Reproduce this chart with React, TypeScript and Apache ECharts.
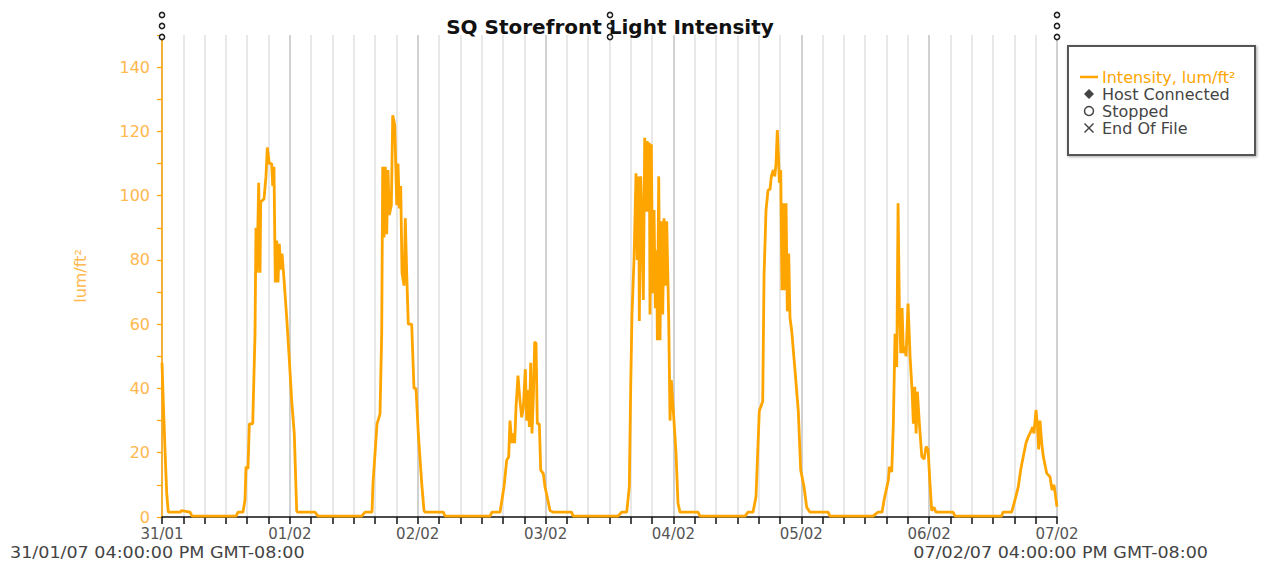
import React, { useEffect, useRef } from "react";
import * as echarts from "echarts";

// Hours elapsed since 31/01/07 04:00:00 PM GMT-08:00
const hoursOffset: number[] = [
  0, 0.24, 0.56, 0.88, 1.18, 3.4, 3.7, 5.26, 5.63, 13.9, 14.27, 15.2,
  15.58, 15.77, 16.14, 16.39, 17.03, 17.46, 17.64, 17.83, 18.15, 18.4, 18.53, 19.15, 19.52, 19.77, 20.14, 20.59, 20.78, 21.02, 21.27, 21.53, 21.77, 22.02, 22.28, 22.53, 22.9, 23.41, 23.9, 24.35, 24.83, 25.28,
  25.43, 28.72, 29.28, 37.49, 38.1, 39.42,
  39.61, 40.36, 40.92, 41.24, 41.43, 41.68, 41.92, 42.18, 42.42, 42.67, 43.05, 43.31, 43.69, 43.87, 44.06, 44.3, 44.55, 44.81, 45.05, 45.43, 45.67, 45.93, 46.23, 46.87, 47.3, 47.68, 48.11, 48.75, 49.18,
  49.37, 52.8, 53.12, 61.57, 61.94, 63.45,
  64.2, 64.7, 65.08, 65.32, 65.64, 65.94, 66.2, 66.45, 66.82, 67.2, 67.52, 67.82, 68.2, 68.46, 68.76, 68.95, 69.21, 69.45, 69.7, 69.96, 70.21, 70.45, 70.83, 71.09, 71.58, 71.89, 72.21, 72.83,
  73.45, 76.9, 77.15, 85.6, 86.29, 87.23,
  87.72, 87.98, 88.22, 88.6, 88.98, 89.22, 89.48, 89.6, 89.86, 90.1, 90.35, 90.61, 90.86, 91.1, 91.37, 91.48, 91.6, 91.85, 92.11, 92.36, 92.6, 92.86, 92.98, 93.24, 93.48, 93.73, 93.99, 94.23, 94.48, 94.74, 95.12, 95.36, 95.6, 95.98, 96.48, 96.86,
  97.23, 100.61, 100.99, 109.44, 110.0, 110.94,
  111.5, 112.12, 112.76, 113.01, 113.38, 113.76, 114.13, 114.38, 114.75, 115.02, 115.26, 115.5, 115.77, 115.88, 116.14, 116.38, 116.63, 116.89, 117.14, 117.38, 117.64, 117.88, 118.2, 118.82, 119.44, 119.89, 120.51, 121.02,
  121.64, 125.02, 125.4, 133.47, 134.41, 135.16,
  135.54, 136.35, 136.53, 136.98, 137.28, 137.6, 137.92, 138.17, 138.41, 138.67, 138.92, 139.17, 139.42, 139.67, 140.04, 140.42, 140.79, 141.04, 141.3, 141.55, 141.79, 142.17, 142.62, 143.05, 143.43, 143.8, 144.16, 144.48, 144.91,
  145.29, 148.48, 148.86, 157.62, 157.86, 159.49,
  160.11, 160.73, 161.18, 161.67, 162.18, 162.61, 163.06, 163.44, 163.68, 164.06, 164.31, 164.56, 164.81, 165.13, 165.43, 166.07, 166.69, 167.06, 167.44, 168,
];

// Light intensity, lum/ft²
const intensity: number[] = [
  48, 36, 21, 7.5, 1.5, 1.5, 2, 1.5, 0.3, 0.3, 1.5, 1.5,
  5.3, 15.6, 15, 29, 29, 57, 90, 76, 104, 76, 98, 99, 106, 115, 110, 110, 103, 109, 73, 86, 73, 85, 77, 82, 74, 62, 49, 36, 26, 2,
  1.5, 1.5, 0.3, 0.3, 1.5, 1.5,
  10.5, 29, 32, 57, 109, 87, 109, 88, 108, 94, 97, 125, 122, 110, 97, 110, 96, 103, 76, 72, 93, 76, 60, 60, 40, 40, 26, 10.5, 2,
  1.5, 1.5, 0.3, 0.3, 1.5, 1.5,
  9.4, 17.7, 18.7, 30, 23, 26, 23, 34, 44, 36, 31, 34, 46, 30, 39.5, 28, 48, 26, 37, 54.5, 54, 29, 29, 14.6, 13.5, 9.4, 7, 2,
  1.5, 1.5, 0.3, 0.3, 1.5, 1.5,
  9.4, 40.5, 63, 80, 107, 80, 106, 61, 106, 92, 67.5, 118, 95, 117, 95, 116.5, 63, 116, 69.6, 95.5, 65, 83, 55, 106, 55, 92, 63, 93, 72, 92, 61, 30, 42.6, 33, 20, 4.3,
  1.5, 1.5, 0.3, 0.3, 1.5, 1.5,
  6.3, 33, 36, 75, 95.5, 101.7, 102, 106, 108, 106, 110, 120.4, 110, 104, 108, 70.6, 97.6, 70.6, 97.6, 64, 82, 62, 58, 45.6, 33, 14.6, 9.4, 3,
  1.5, 1.5, 0.3, 0.3, 1.5, 1.5,
  5.3, 11.5, 15.6, 14, 29, 57, 46.7, 97.6, 65.4, 51, 65, 51, 53, 50, 66.4, 50, 39.5, 29, 40.5, 26, 39, 29, 18.8, 18, 21.9, 21, 10.4, 2, 3,
  1.5, 1.5, 0.3, 0.3, 1.5, 1.5,
  5.3, 9.4, 14.6, 18.8, 23, 25, 26.5, 28, 26, 33.3, 29, 21, 30, 23, 18.8, 13.6, 12.5, 8.4, 10, 3.2,
];

const dayLabels: string[] = ["31/01", "01/02", "02/02", "03/02", "04/02", "05/02", "06/02", "07/02"];
const yTickLabels: number[] = [0, 20, 40, 60, 80, 100, 120, 140];
const startLabel = "31/01/07 04:00:00 PM GMT-08:00";
const endLabel = "07/02/07 04:00:00 PM GMT-08:00";
const chartTitle = "SQ Storefront Light Intensity";
const seriesName = "Intensity, lum/ft²";
const legendExtra: string[] = ["Host Connected", "Stopped", "End Of File"];

const FONT = "DejaVu Sans";
const ORANGE = "#FFA500";
const ORANGE_LIGHT = "#FFB84D";

export default function App() {
  const ref = useRef<HTMLDivElement>(null);

  useEffect(() => {
    if (!ref.current) return;
    const chart = echarts.init(ref.current, undefined, { renderer: "svg" });
    const data = hoursOffset.map((h, i) => [h, intensity[i]]);

    const handles: any[] = [];
    [162, 610, 1057].forEach((x) => {
      [15, 26, 37].forEach((y) => {
        handles.push({
          type: "circle",
          z: 100,
          shape: { cx: x, cy: y, r: 2.6 },
          style: { fill: "#fff", stroke: "#222", lineWidth: 1.5 },
        });
      });
    });

    const lx = 1080;
    const rows = [77, 94, 111, 128];
    const legendGraphics: any[] = [
      {
        type: "rect",
        z: 50,
        shape: { x: 1068, y: 46, width: 187, height: 109 },
        style: { fill: "#fff", stroke: "#555", lineWidth: 2, shadowBlur: 3, shadowColor: "rgba(0,0,0,0.35)", shadowOffsetX: 1, shadowOffsetY: 1 },
      },
      { type: "line", z: 51, shape: { x1: lx, y1: rows[0], x2: lx + 18, y2: rows[0] }, style: { stroke: ORANGE, lineWidth: 2.5 } },
      { type: "text", z: 51, style: { x: 1102, y: rows[0], text: seriesName, fill: ORANGE, font: `16px ${FONT}`, verticalAlign: "middle" } },
      { type: "polygon", z: 51, shape: { points: [[1089, rows[1] - 5], [1094, rows[1]], [1089, rows[1] + 5], [1084, rows[1]]] }, style: { fill: "#444" } },
      { type: "text", z: 51, style: { x: 1102, y: rows[1], text: legendExtra[0], fill: "#444", font: `16px ${FONT}`, verticalAlign: "middle" } },
      { type: "circle", z: 51, shape: { cx: 1089, cy: rows[2], r: 4.5 }, style: { fill: "#fff", stroke: "#444", lineWidth: 1.5 } },
      { type: "text", z: 51, style: { x: 1102, y: rows[2], text: legendExtra[1], fill: "#444", font: `16px ${FONT}`, verticalAlign: "middle" } },
      { type: "line", z: 51, shape: { x1: 1084.5, y1: rows[3] - 4.5, x2: 1093.5, y2: rows[3] + 4.5 }, style: { stroke: "#444", lineWidth: 1.5 } },
      { type: "line", z: 51, shape: { x1: 1084.5, y1: rows[3] + 4.5, x2: 1093.5, y2: rows[3] - 4.5 }, style: { stroke: "#444", lineWidth: 1.5 } },
      { type: "text", z: 51, style: { x: 1102, y: rows[3], text: legendExtra[2], fill: "#444", font: `16px ${FONT}`, verticalAlign: "middle" } },
    ];

    const option: any = {
      animation: false,
      backgroundColor: "#fff",
      textStyle: { fontFamily: FONT },
      grid: { left: 162, right: 207, top: 35, bottom: 46, containLabel: false },
      xAxis: {
        type: "value",
        min: 0,
        max: 168,
        interval: 4,
        axisLine: { show: true, lineStyle: { color: "#111", width: 1.5 } },
        axisTick: { show: true, length: 7, lineStyle: { color: "#111", width: 1.5 } },
        axisLabel: {
          show: true,
          margin: 9,
          color: "#555",
          fontSize: 15,
          fontFamily: FONT,
          formatter: (v: number) => (v % 24 === 0 ? dayLabels[v / 24] : ""),
        },
        splitLine: {
          show: true,
          lineStyle: {
            color: ["#c2c2c2", "#e0e0e0", "#e0e0e0", "#e0e0e0", "#e0e0e0", "#e0e0e0"],
            width: 1.5,
          },
        },
      },
      yAxis: {
        type: "value",
        min: 0,
        max: 150,
        interval: 10,
        name: "lum/ft²",
        nameLocation: "middle",
        nameGap: 74,
        nameTextStyle: { color: ORANGE_LIGHT, fontSize: 16, fontFamily: FONT },
        axisLine: { show: true, lineStyle: { color: ORANGE, width: 1.5 } },
        axisTick: { show: true, length: 5, lineStyle: { color: ORANGE, width: 1.2 } },
        axisLabel: {
          margin: 12,
          color: ORANGE_LIGHT,
          fontSize: 16,
          fontFamily: FONT,
          formatter: (v: number) => (yTickLabels.indexOf(v) >= 0 ? String(v) : ""),
        },
        splitLine: { show: false },
      },
      series: [
        {
          name: seriesName,
          type: "line",
          data,
          showSymbol: false,
          symbol: "none",
          lineStyle: { color: ORANGE, width: 2.8 },
          itemStyle: { color: ORANGE },
          z: 10,
        },
      ],
      graphic: [
        {
          type: "text",
          z: 60,
          style: { x: 610, y: 27, text: chartTitle, fill: "#111", font: `bold 20px ${FONT}`, textAlign: "center", verticalAlign: "middle" },
        },
        {
          type: "text",
          x: 10,
          y: 553,
          scaleX: 1.17,
          style: { x: 0, y: 0, text: startLabel, fill: "#444", font: `15px ${FONT}`, verticalAlign: "middle" },
        },
        {
          type: "text",
          x: 1208,
          y: 553,
          scaleX: 1.17,
          style: { x: 0, y: 0, text: endLabel, fill: "#444", font: `15px ${FONT}`, textAlign: "right", verticalAlign: "middle" },
        },
        ...legendGraphics,
        ...handles,
      ],
    };
    chart.setOption(option);
    return () => chart.dispose();
  }, []);

  return (
    <div
      ref={ref}
      style={{ position: "absolute", left: 0, top: 0, width: 1264, height: 563, background: "#fff" }}
    />
  );
}
